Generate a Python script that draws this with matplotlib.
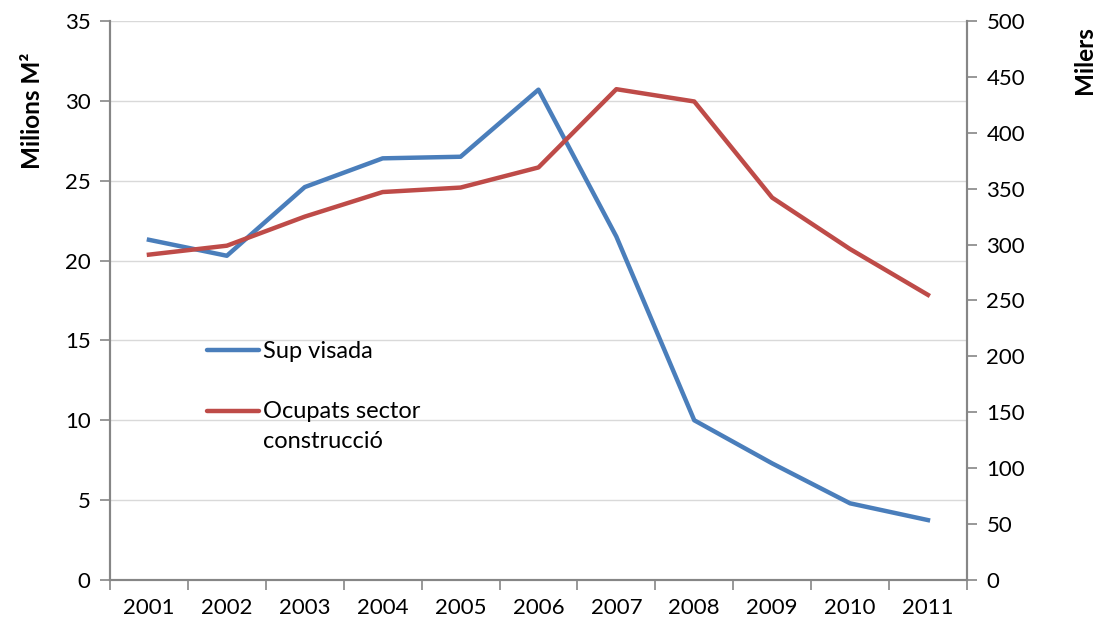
import matplotlib
matplotlib.use("Agg")
import matplotlib.pyplot as plt
from matplotlib.lines import Line2D

years = ["2001", "2002", "2003", "2004", "2005", "2006", "2007", "2008", "2009", "2010", "2011"]
sup_visada = [21.3, 20.3, 24.6, 26.4, 26.5, 30.7, 21.5, 10.0, 7.3, 4.8, 3.75]
ocupats = [291, 299, 325, 347, 351, 369, 439, 428, 342, 296, 255]

left_ticks = [0, 5, 10, 15, 20, 25, 30, 35]
right_ticks = [0, 50, 100, 150, 200, 250, 300, 350, 400, 450, 500]

plt.rcParams['font.family'] = ['Lato', 'DejaVu Sans']

BLUE = "#4A7EBB"
RED = "#BE4B48"
AXC = "#868686"
GRID = "#D9D9D9"

fig = plt.figure(figsize=(11, 6.32), dpi=100)
ax = fig.add_axes([0.1, 0.0823, 0.779, 0.8845])
ax2 = ax.twinx()

x = list(range(len(years)))
ax.plot(x, sup_visada, color=BLUE, lw=3.2, solid_joinstyle='round', zorder=3)
ax2.plot(x, ocupats, color=RED, lw=3.2, solid_joinstyle='round', zorder=3)

ax.set_xlim(-0.5, len(years) - 0.5)
ax.set_ylim(0, 35)
ax2.set_ylim(0, 500)

ax.set_yticks(left_ticks)
ax2.set_yticks(right_ticks)
ax.grid(axis='y', color=GRID, lw=1.0)
ax.set_axisbelow(True)

ax.set_xticks([i - 0.5 for i in range(len(years) + 1)])
ax.set_xticklabels([])
ax.set_xticks(x, minor=True)
ax.set_xticklabels(years, minor=True)
ax.tick_params(axis='x', which='major', length=7, color=AXC, width=1.2)
ax.tick_params(axis='x', which='minor', length=0, labelsize=16, pad=13)
ax.tick_params(axis='y', length=7, color=AXC, width=1.2, labelsize=16, pad=7)
ax2.tick_params(axis='y', length=7, color=AXC, width=1.2, labelsize=16, pad=7)

for a in (ax, ax2):
    a.spines['top'].set_visible(False)
    for s in ('left', 'right', 'bottom'):
        a.spines[s].set_color(AXC)
        a.spines[s].set_linewidth(1.5)

ax.set_ylabel("Milions M²", fontsize=17.5, fontweight='bold')
ax2.set_ylabel("Milers", fontsize=17.5, fontweight='bold')
ax.yaxis.set_label_coords(-0.077, 0.84)
ax2.yaxis.set_label_coords(1.124, 0.93)

# legend drawn in figure coordinates
W, H = 1100, 632
def fx(px): return px / W
def fy(py): return 1 - py / H
fig.add_artist(Line2D([fx(207), fx(259)], [fy(350), fy(350)], color=BLUE, lw=3.2,
                      solid_capstyle='round', transform=fig.transFigure))
fig.add_artist(Line2D([fx(207), fx(259)], [fy(411), fy(411)], color=RED, lw=3.2,
                      solid_capstyle='round', transform=fig.transFigure))
fig.text(fx(263), fy(351), "Sup visada", fontsize=17, va='center', ha='left')
fig.text(fx(263), fy(412), "Ocupats sector", fontsize=17, va='center', ha='left')
fig.text(fx(263), fy(442), "construcció", fontsize=17, va='center', ha='left')

fig.savefig("out.png", dpi=100)
